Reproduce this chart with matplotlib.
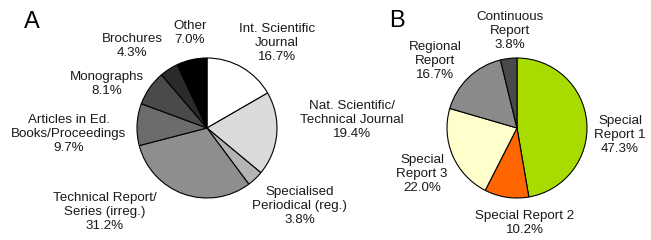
import matplotlib.pyplot as plt

plt.rcParams['font.family'] = ['Liberation Sans', 'DejaVu Sans']

# panel A: publication types
a_labels = ["Int. Scientific\nJournal", "Nat. Scientific/\nTechnical Journal",
            "Specialised\nPeriodical (reg.)", "Technical Report/\nSeries (irreg.)",
            "Articles in Ed.\nBooks/Proceedings", "Monographs", "Brochures", "Other"]
a_values = [16.7, 19.4, 3.8, 31.2, 9.7, 8.1, 4.3, 7.0]
a_colors = ["#ffffff", "#dadada", "#b4b4b4", "#8e8e8e", "#6c6c6c", "#4a4a4a", "#2a2a2a", "#000000"]

# panel B: report types
b_labels = ["Special\nReport 1", "Special Report 2", "Special\nReport 3",
            "Regional\nReport", "Continuous\nReport"]
b_values = [47.3, 10.2, 22.0, 16.7, 3.8]
b_colors = ["#a8dc00", "#ff6600", "#ffffcc", "#8a8a8a", "#4a4a4a"]

# label offsets from pie centre, in pixels (layout only)
a_offsets = [(70, 85), (145, 8), (93, -78), (-102, -84), (-138, -6), (-100, 44), (-75, 82), (-17, 95)]
b_offsets = [(103, -7), (8, -95), (-95, -46), (-82, 67), (-7, 97)]

fig = plt.figure(figsize=(6.51, 2.4), dpi=100)
ax = fig.add_axes([0, 0, 1, 1])


def draw_pie(center, values, labels, colors, offsets):
    ax.pie(values, colors=colors, center=center, radius=70, startangle=90,
           counterclock=False, normalize=True,
           wedgeprops=dict(edgecolor='black', linewidth=0.8))
    for lab, val, (dx, dy) in zip(labels, values, offsets):
        ax.text(center[0] + dx, center[1] + dy, f"{lab}\n{val:.1f}%",
                ha='center', va='center', fontsize=9.6, color='#1a1a1a',
                linespacing=1.18)


draw_pie((207, 112), a_values, a_labels, a_colors, a_offsets)
draw_pie((517, 112), b_values, b_labels, b_colors, b_offsets)

ax.text(24, 218, "A", fontsize=17, ha='left', va='center')
ax.text(389, 219, "B", fontsize=17, ha='left', va='center')

ax.set_xlim(0, 651)
ax.set_ylim(0, 240)
ax.set_aspect('equal')
ax.axis('off')

fig.savefig("out.png", dpi=100)
